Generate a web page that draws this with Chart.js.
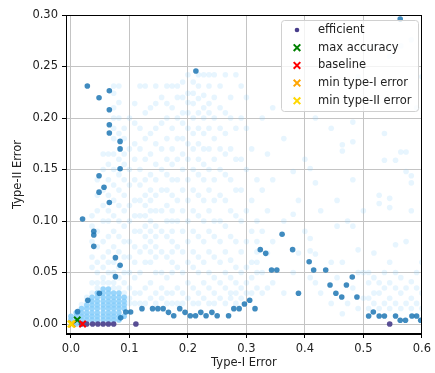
<!DOCTYPE html>
<html lang="en">
<head>
  <meta charset="UTF-8">
  <title>Type-I vs Type-II Error</title>
  <script src="https://cdn.jsdelivr.net/npm/chart.js"></script>
  <style>
    body { margin: 0; background: #fff; }
    canvas { display: block; }
  </style>
</head>
<body>
  <canvas id="errChart" width="435" height="373"></canvas>

  <script>
    // axis ticks
    const xTicks = [0.0, 0.1, 0.2, 0.3, 0.4, 0.5, 0.6];
    const yTicks = [0.00, 0.05, 0.10, 0.15, 0.20, 0.25, 0.30];

    // pale cloud of all evaluated settings, by column: [type-I, [type-II values]]
    const cloudCols = [
      [0.018, [0.015, 0.019]],
      [0.027, [0.022, 0.026]],
      [0.036, [0.03, 0.04, 0.055, 0.065, 0.08, 0.095, 0.105]],
      [0.045, [0.035, 0.04, 0.05, 0.06, 0.075, 0.09, 0.11, 0.125, 0.14]],
      [0.055, [0.04, 0.045, 0.055, 0.065, 0.08, 0.1, 0.115, 0.13, 0.15, 0.165]],
      [0.064, [0.04, 0.05, 0.06, 0.07, 0.085, 0.1, 0.11, 0.125, 0.14, 0.155, 0.165]],
      [0.073, [0.035, 0.04, 0.05, 0.06, 0.075, 0.09, 0.105, 0.12, 0.135, 0.15, 0.165, 0.18, 0.19, 0.2, 0.21, 0.224, 0.231]],
      [0.082, [0.035, 0.045, 0.055, 0.07, 0.085, 0.1, 0.115, 0.13, 0.145, 0.16, 0.185, 0.2, 0.215, 0.231]],
      [0.091, [0.03, 0.04, 0.05, 0.065, 0.08, 0.095, 0.11, 0.125, 0.14, 0.155, 0.165, 0.18, 0.19]],
      [0.100, [0.02, 0.025, 0.035, 0.05, 0.065, 0.08, 0.1, 0.115, 0.135, 0.15, 0.17, 0.2]],
      [0.109, [0.02, 0.03, 0.045, 0.06, 0.075, 0.09, 0.105, 0.12, 0.14, 0.16, 0.175, 0.195, 0.214]],
      [0.118, [0.02, 0.03, 0.05, 0.07, 0.09, 0.105, 0.12, 0.135, 0.15, 0.17, 0.19, 0.231]],
      [0.127, [0.02, 0.035, 0.06, 0.075, 0.085, 0.095, 0.105, 0.115, 0.125, 0.14, 0.16, 0.18, 0.205, 0.231]],
      [0.136, [0.025, 0.04, 0.06, 0.07, 0.08, 0.09, 0.1, 0.11, 0.12, 0.13, 0.145, 0.165, 0.185, 0.21]],
      [0.145, [0.02, 0.03, 0.05, 0.065, 0.075, 0.085, 0.095, 0.11, 0.125, 0.14, 0.155, 0.175, 0.19, 0.214, 0.231]],
      [0.155, [0.025, 0.035, 0.05, 0.07, 0.09, 0.11, 0.13, 0.15, 0.17, 0.195, 0.22]],
      [0.164, [0.02, 0.03, 0.045, 0.065, 0.085, 0.1, 0.115, 0.13, 0.145, 0.16, 0.18, 0.2, 0.214, 0.231]],
      [0.173, [0.02, 0.03, 0.05, 0.06, 0.07, 0.08, 0.09, 0.1, 0.11, 0.125, 0.14, 0.155, 0.17, 0.19, 0.21, 0.231]],
      [0.182, [0.02, 0.035, 0.055, 0.075, 0.1, 0.12, 0.14, 0.16, 0.18, 0.2, 0.22, 0.231]],
      [0.191, [0.02, 0.03, 0.05, 0.07, 0.09, 0.11, 0.13, 0.15, 0.165, 0.18, 0.195, 0.205, 0.22, 0.235]],
      [0.200, [0.025, 0.04, 0.06, 0.08, 0.1, 0.12, 0.14, 0.16, 0.175, 0.19, 0.205, 0.215, 0.224, 0.242]],
      [0.209, [0.02, 0.035, 0.055, 0.07, 0.09, 0.11, 0.13, 0.15, 0.17, 0.185, 0.2, 0.214, 0.224, 0.235]],
      [0.218, [0.02, 0.03, 0.05, 0.065, 0.085, 0.105, 0.125, 0.145, 0.16, 0.175, 0.19, 0.205, 0.219, 0.231, 0.242]],
      [0.227, [0.025, 0.04, 0.06, 0.08, 0.1, 0.12, 0.14, 0.155, 0.17, 0.185, 0.2, 0.21, 0.222, 0.242]],
      [0.236, [0.02, 0.035, 0.05, 0.07, 0.09, 0.11, 0.13, 0.15, 0.17, 0.19, 0.205, 0.214, 0.231, 0.242]],
      [0.245, [0.02, 0.03, 0.045, 0.065, 0.085, 0.1, 0.12, 0.14, 0.16, 0.18, 0.2, 0.22, 0.242]],
      [0.255, [0.025, 0.04, 0.06, 0.08, 0.1, 0.125, 0.15, 0.17, 0.19, 0.21, 0.231]],
      [0.264, [0.02, 0.035, 0.05, 0.07, 0.095, 0.12, 0.145, 0.165, 0.185, 0.205, 0.242]],
      [0.273, [0.025, 0.03, 0.045, 0.062, 0.085, 0.11, 0.14, 0.17, 0.2, 0.22]],
      [0.282, [0.02, 0.03, 0.04, 0.055, 0.08, 0.105, 0.13, 0.16, 0.19, 0.242]],
      [0.291, [0.025, 0.035, 0.05, 0.07, 0.1, 0.13, 0.16, 0.2, 0.231]],
      [0.300, [0.03, 0.04, 0.055, 0.08, 0.11, 0.15, 0.19, 0.22]],
      [0.309, [0.03, 0.045, 0.06, 0.09, 0.12, 0.17]],
      [0.318, [0.035, 0.05, 0.06, 0.07, 0.08, 0.1, 0.14]],
      [0.327, [0.03, 0.05, 0.09, 0.13, 0.2]],
      [0.336, [0.035, 0.069, 0.11, 0.165]],
      [0.345, [0.04, 0.08, 0.14, 0.21]],
      [0.364, [0.03, 0.1, 0.18]],
      [0.380, [0.05, 0.1065, 0.148, 0.22]],
      [0.389, [0.069, 0.12]],
      [0.400, [0.09, 0.16]],
      [0.409, [0.045, 0.071, 0.083, 0.151]],
      [0.418, [0.04, 0.068, 0.137, 0.2]],
      [0.427, [0.03, 0.11]],
      [0.445, [0.02, 0.06, 0.19]],
      [0.455, [0.045, 0.095, 0.12]],
      [0.464, [0.01, 0.06, 0.168, 0.174]],
      [0.473, [0.02, 0.1]],
      [0.482, [0.035, 0.095, 0.14, 0.177, 0.196]],
      [0.491, [0.015, 0.05, 0.072, 0.24]],
      [0.500, [0.025, 0.05, 0.11]],
      [0.509, [0.015, 0.025, 0.04, 0.05]],
      [0.518, [0.02, 0.03, 0.045, 0.069, 0.27]],
      [0.527, [0.015, 0.03, 0.04, 0.117, 0.125]],
      [0.536, [0.02, 0.035, 0.05, 0.159, 0.185]],
      [0.545, [0.015, 0.025, 0.04, 0.06, 0.113, 0.122, 0.26]],
      [0.555, [0.02, 0.035, 0.05, 0.077, 0.159]],
      [0.564, [0.015, 0.03, 0.045, 0.167, 0.27]],
      [0.573, [0.02, 0.035, 0.08, 0.148, 0.167]],
      [0.582, [0.015, 0.025, 0.041, 0.11, 0.137, 0.144, 0.276]],
      [0.591, [0.02, 0.035, 0.05, 0.21]],
      [0.600, [0.015, 0.03, 0.06, 0.24]]
    ];

    // crowded corner near the origin
    const coreCols = [
      [0.000, [0.004, 0.0075]],
      [0.009, [0.0, 0.004, 0.0075, 0.011]],
      [0.018, [0.004, 0.0075, 0.011, 0.015]],
      [0.027, [0.004, 0.0075, 0.011, 0.015, 0.0185]],
      [0.036, [0.004, 0.0075, 0.011, 0.015, 0.0185, 0.022, 0.026]],
      [0.045, [0.004, 0.0075, 0.011, 0.015, 0.0185, 0.022, 0.026, 0.03]],
      [0.055, [0.004, 0.0075, 0.011, 0.015, 0.0185, 0.022, 0.026, 0.03, 0.034]],
      [0.064, [0.004, 0.0075, 0.011, 0.015, 0.0185, 0.022, 0.026, 0.03, 0.034]],
      [0.073, [0.004, 0.0075, 0.011, 0.015, 0.0185, 0.022, 0.026, 0.03]],
      [0.082, [0.004, 0.0075, 0.011, 0.015, 0.0185, 0.022, 0.026, 0.03]],
      [0.091, [0.0075, 0.015, 0.0185, 0.022, 0.026]]
    ];

    // highlighted (darker blue) settings
    const frontier = [
      [0.028, 0.231], [0.0656, 0.2265], [0.048, 0.2197], [0.0656, 0.208], [0.0656, 0.1935],
      [0.0656, 0.1854], [0.084, 0.1773], [0.084, 0.170], [0.084, 0.1508], [0.048, 0.144],
      [0.0565, 0.1327], [0.048, 0.128], [0.0656, 0.118], [0.0198, 0.102], [0.039, 0.090],
      [0.039, 0.0864], [0.039, 0.0754], [0.076, 0.0644], [0.084, 0.057], [0.076, 0.046],
      [0.0486, 0.0298], [0.0288, 0.023], [0.0113, 0.012], [0.0937, 0.0117], [0.102, 0.0117],
      [0.085, 0.006],
      [0.1214, 0.0149], [0.1395, 0.0149], [0.1486, 0.0149], [0.1576, 0.0149], [0.1667, 0.0113],
      [0.1757, 0.008], [0.186, 0.0149], [0.195, 0.0113], [0.204, 0.008], [0.213, 0.008],
      [0.222, 0.0113], [0.231, 0.008], [0.241, 0.0113], [0.250, 0.008], [0.2695, 0.008],
      [0.2785, 0.0149], [0.2876, 0.0149], [0.2966, 0.0194], [0.3056, 0.023], [0.3147, 0.0149],
      [0.3237, 0.0722], [0.333, 0.0686], [0.343, 0.0524], [0.352, 0.0524], [0.361, 0.0871],
      [0.379, 0.0722], [0.389, 0.0298], [0.4073, 0.0605], [0.415, 0.0524], [0.4356, 0.0524],
      [0.443, 0.0379], [0.453, 0.0298], [0.463, 0.0262], [0.471, 0.0379], [0.481, 0.0456],
      [0.489, 0.0262], [0.509, 0.0078], [0.517, 0.0117], [0.527, 0.0078], [0.536, 0.0078],
      [0.555, 0.0078], [0.563, 0.0036], [0.572, 0.0036], [0.583, 0.0078], [0.591, 0.0078],
      [0.598, 0.0036],
      [0.2136, 0.2456], [0.563, 0.296]
    ];

    const efficient = [
      [0.018, 0.0], [0.027, 0.0], [0.037, 0.0], [0.046, 0.0], [0.055, 0.0],
      [0.064, 0.0], [0.073, 0.0], [0.111, 0.0], [0.545, 0.0]
    ];
    const maxAccuracy = [[0.0107, 0.004]];
    const baseline = [[0.0198, 0.0]];
    const minType1 = [[0.002, 0.0]];
    const minType2 = [[0.0, 0.0]];

    const legendItems = [
      { label: 'efficient', color: '#483d8b', kind: 'dot' },
      { label: 'max accuracy', color: '#008000', kind: 'x' },
      { label: 'baseline', color: '#ff0000', kind: 'x' },
      { label: 'min type-I error', color: '#ffa500', kind: 'x' },
      { label: 'min type-II error', color: '#ffd700', kind: 'x' }
    ];

    const toPts = arr => arr.map(([x, y]) => ({ x, y }));
    const fromCols = cols => cols.flatMap(([x, ys]) => ys.map(y => ({ x, y })));

    const FONT = 'DejaVu Sans';
    const TEXT = '#222';
    Chart.defaults.font.family = FONT;
    Chart.defaults.font.size = 11.5;
    Chart.defaults.color = TEXT;

    const crossSet = (data, color, order) => ({
      data: toPts(data),
      pointStyle: 'crossRot',
      pointRadius: 4.5,
      borderColor: color,
      backgroundColor: color,
      pointBorderWidth: 2,
      order
    });

    // frame around the plot area plus a legend box
    const framePlugin = {
      id: 'frame',
      afterDatasetsDraw(chart) {
        const { ctx, chartArea: a } = chart;
        ctx.save();
        ctx.strokeStyle = '#000';
        ctx.lineWidth = 1;
        ctx.strokeRect(Math.round(a.left) + 0.5, Math.round(a.top) + 0.5,
          Math.round(a.right - a.left) - 1, Math.round(a.bottom - a.top) - 1);
        ctx.restore();
      },
      afterDraw(chart) {
        const { ctx } = chart;
        const bx = 281.5, by = 20.5, bw = 137, bh = 91;
        ctx.save();
        ctx.beginPath();
        ctx.roundRect(bx, by, bw, bh, 3);
        ctx.fillStyle = 'rgba(255,255,255,0.8)';
        ctx.fill();
        ctx.strokeStyle = '#d0d0d0';
        ctx.lineWidth = 1;
        ctx.stroke();

        ctx.font = `11.5px "${FONT}"`;
        ctx.textBaseline = 'middle';
        ctx.textAlign = 'left';
        legendItems.forEach((it, i) => {
          const y = 30 + i * 17.7;
          const x = 297;
          if (it.kind === 'dot') {
            ctx.beginPath();
            ctx.arc(x, y, 2.3, 0, Math.PI * 2);
            ctx.fillStyle = it.color;
            ctx.fill();
          } else {
            ctx.beginPath();
            ctx.moveTo(x - 3.3, y - 3.3); ctx.lineTo(x + 3.3, y + 3.3);
            ctx.moveTo(x - 3.3, y + 3.3); ctx.lineTo(x + 3.3, y - 3.3);
            ctx.strokeStyle = it.color;
            ctx.lineWidth = 2;
            ctx.stroke();
          }
          ctx.fillStyle = TEXT;
          ctx.fillText(it.label, 318, y);
        });
        ctx.restore();
      }
    };

    new Chart(document.getElementById('errChart'), {
      type: 'scatter',
      data: {
        datasets: [
          crossSet(minType2, '#ffd700', 1),
          crossSet(minType1, '#ffa500', 2),
          crossSet(baseline, '#ff0000', 3),
          crossSet(maxAccuracy, '#008000', 4),
          {
            data: toPts(efficient),
            pointRadius: 2.8,
            pointBorderWidth: 0,
            backgroundColor: 'rgba(72,61,139,0.9)',
            order: 5
          },
          {
            data: toPts(frontier),
            pointRadius: 2.8,
            pointBorderWidth: 0,
            backgroundColor: 'rgba(31,119,180,0.85)',
            order: 6
          },
          {
            data: fromCols(coreCols),
            pointRadius: 2.8,
            pointBorderWidth: 0,
            backgroundColor: 'rgba(135,206,250,0.85)',
            order: 7
          },
          {
            data: fromCols(cloudCols),
            pointRadius: 2.8,
            pointBorderWidth: 0,
            backgroundColor: 'rgba(135,206,250,0.2)',
            order: 8
          }
        ]
      },
      options: {
        responsive: false,
        animation: false,
        layout: { padding: { left: 0, right: 11, top: 15, bottom: 0 } },
        plugins: {
          legend: { display: false },
          tooltip: { enabled: false }
        },
        scales: {
          x: {
            type: 'linear',
            min: -0.0085,
            max: 0.6,
            afterFit: s => { s.height = 39; },
            afterBuildTicks: s => { s.ticks = xTicks.map(v => ({ value: v })); },
            ticks: { padding: 4, callback: v => v.toFixed(1), color: TEXT },
            grid: { color: '#c4c4c4', tickColor: '#000', tickLength: 4 },
            border: { color: '#000' },
            title: { display: true, text: 'Type-I Error', color: TEXT, padding: { top: 0, bottom: 3 } }
          },
          y: {
            type: 'linear',
            min: -0.0097,
            max: 0.30,
            afterFit: s => { s.width = 66; },
            afterBuildTicks: s => { s.ticks = yTicks.map(v => ({ value: v })); },
            ticks: { padding: 4, callback: v => v.toFixed(2), color: TEXT },
            grid: { color: '#c4c4c4', tickColor: '#000', tickLength: 4 },
            border: { color: '#000' },
            title: { display: true, text: 'Type-II Error', color: TEXT, padding: { top: 11, bottom: 0 } }
          }
        }
      },
      plugins: [framePlugin]
    });
  </script>
</body>
</html>
